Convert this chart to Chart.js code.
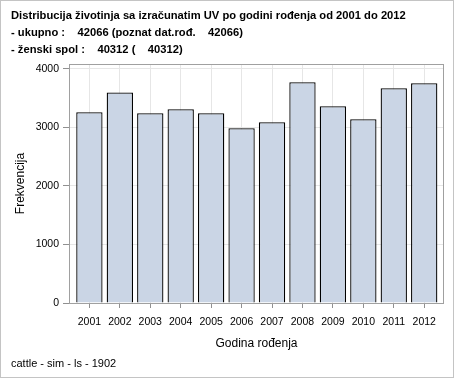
<!DOCTYPE html>
<html>
<head>
<meta charset="utf-8">
<script src="https://cdn.jsdelivr.net/npm/chart.js@4/dist/chart.umd.min.js"></script>
<style>
  html, body { margin: 0; padding: 0; background: #fff; }
  #wrap { width: 454px; height: 378px; position: relative; }
</style>
</head>
<body>
<div id="wrap"><canvas id="c" width="454" height="378"></canvas></div>
<script>
const years = [2001, 2002, 2003, 2004, 2005, 2006, 2007, 2008, 2009, 2010, 2011, 2012];
const counts = [3260, 3600, 3243, 3311, 3243, 2986, 3089, 3773, 3362, 3140, 3670, 3756];
const yTickValues = [0, 1000, 2000, 3000, 4000];
const titleLines = [
  'Distribucija životinja sa izračunatim UV po godini rođenja od 2001 do 2012',
  '- ukupno :    42066 (poznat dat.rođ.    42066)',
  '- ženski spol :    40312 (    40312)'
];
const footerText = 'cattle - sim - ls - 1902';
const xTitle = 'Godina rođenja';
const yTitle = 'Frekvencija';

const FONT = '"Liberation Sans", Arial, sans-serif';

const decor = {
  id: 'decor',
  afterDraw(chart) {
    const ctx = chart.ctx;
    const a = chart.chartArea;
    ctx.save();
    ctx.strokeStyle = '#a0a0a0';
    ctx.lineWidth = 1;
    ctx.strokeRect(Math.round(a.left) + 0.5, Math.round(a.top) + 0.5,
                   Math.round(a.right - a.left) - 1, Math.round(a.bottom - a.top));
    ctx.strokeStyle = '#c4c4c4';
    ctx.strokeRect(0.5, 0.5, chart.width - 1, chart.height - 1);
    ctx.fillStyle = '#000';
    ctx.textBaseline = 'middle';
    ctx.textAlign = 'left';
    ctx.font = 'bold 11.2px ' + FONT;
    titleLines.forEach((t, i) => ctx.fillText(t, 11, 15.5 + i * 17.3));
    ctx.font = '11px ' + FONT;
    ctx.fillText(footerText, 11, 364);
    ctx.restore();
  }
};

new Chart(document.getElementById('c'), {
  type: 'bar',
  data: {
    datasets: [{
      data: years.map((y, i) => ({ x: y, y: counts[i] })),
      backgroundColor: '#cad5e5',
      borderColor: '#000',
      borderWidth: 1.3,
      barPercentage: 0.865,
      categoryPercentage: 1
    }]
  },
  options: {
    responsive: false,
    animation: false,
    devicePixelRatio: 1,
    layout: { padding: { left: 13, top: 64, right: 10, bottom: 27 } },
    plugins: { legend: { display: false }, tooltip: { enabled: false }, title: { display: false } },
    scales: {
      x: {
        type: 'linear',
        position: 'bottom',
        offset: false,
        min: 2000.33,
        max: 2012.65,
        afterBuildTicks: (s) => { s.ticks = years.map(v => ({ value: v })); },
        afterFit: (s) => { s.height = 48; },
        ticks: {
          callback: (v) => String(v),
          color: '#000',
          font: { family: FONT, size: 10.5 },
          padding: 8,
          maxRotation: 0,
          autoSkip: false
        },
        grid: { color: '#e6e6e6', tickColor: '#909090', tickLength: 5, drawOnChartArea: true, offset: false },
        border: { display: false },
        title: { display: true, text: xTitle, color: '#000', font: { family: FONT, size: 12 }, padding: 0 }
      },
      y: {
        min: 0,
        max: 4085,
        afterBuildTicks: (s) => { s.ticks = yTickValues.map(v => ({ value: v })); },
        afterFit: (s) => { s.width = 56; },
        ticks: {
          callback: (v) => String(v),
          color: '#000',
          font: { family: FONT, size: 10.5 },
          padding: 4
        },
        grid: { color: '#e6e6e6', tickColor: '#909090', tickLength: 6 },
        border: { display: false },
        title: { display: true, text: yTitle, color: '#000', font: { family: FONT, size: 12 }, padding: 0 }
      }
    }
  },
  plugins: [decor]
});
</script>
</body>
</html>
